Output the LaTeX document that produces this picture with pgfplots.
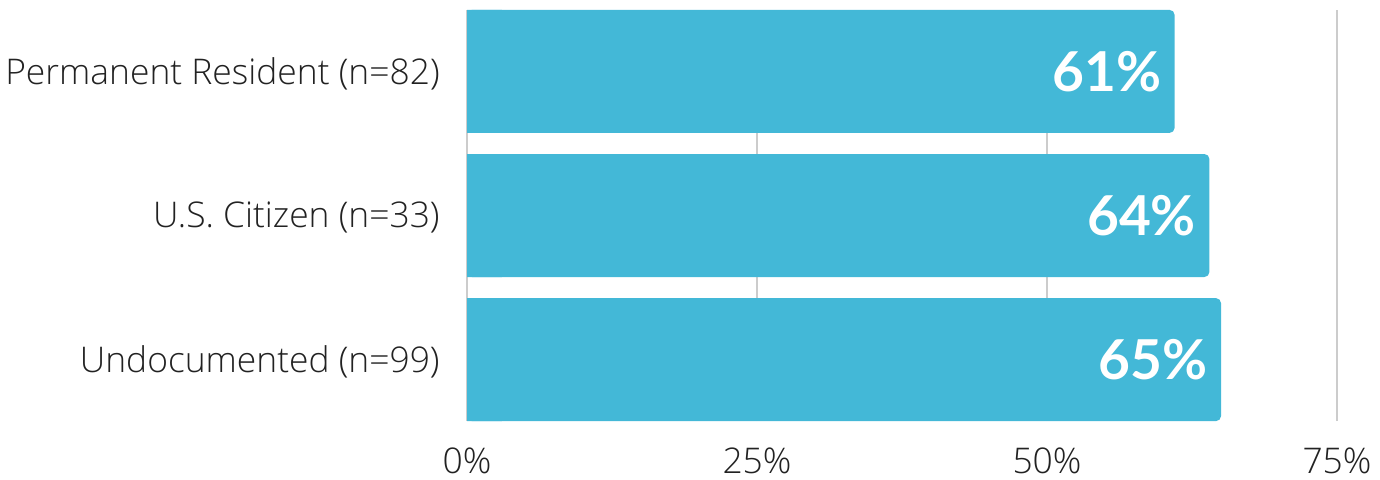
\documentclass[border=0pt]{standalone}
\usepackage{pgfplots}
\pgfplotsset{compat=1.18}
\usepackage{fontspec}
\setmainfont{Open Sans Light}
\newfontfamily\valfont{Lato}
\definecolor{barblue}{HTML}{43B8D7}
\definecolor{gridgrey}{HTML}{CCCCCC}
\definecolor{txt}{HTML}{222222}
\begin{document}
\begin{tikzpicture}
\begin{axis}[name=ax, scale only axis, width=435pt, height=205.5pt,
  xmin=0, xmax=75, ymin=-0.426, ymax=2.426,
  xbar, bar width=61.5pt, bar shift=0pt,
  xtick={0,25,50,75}, xticklabels={0\%,25\%,50\%,75\%},
  ytick={0,1,2}, yticklabels={Undocumented (n=99), U.S. Citizen (n=33), Permanent Resident (n=82)},
  axis line style={draw=none}, major tick length=0pt,
  xmajorgrids, grid style={gridgrey, line width=1pt},
  ticklabel style={font=\fontsize{17.7}{21}\selectfont, text=txt},
  xticklabel style={anchor=north, inner sep=0pt, yshift=-13pt},
  yticklabel style={anchor=east, inner sep=0pt, xshift=-13.5pt, yshift=-1pt},
  clip=false,
]
\addplot[draw=none, fill=barblue, rounded corners=2.5pt, point meta=x,
  nodes near coords={\pgfmathprintnumber[assume math mode=true]{\pgfplotspointmeta}\%},
  every node near coord/.append style={anchor=east, inner sep=0pt, xshift=-6.5pt, text=white,
    font=\valfont\bfseries\fontsize{27.5}{30}\selectfont}]
  coordinates {(65,0) (64,1) (61,2)};
\addplot[draw=none, fill=barblue]
  coordinates {(3,0) (3,1) (3,2)};
\end{axis}
\pgfresetboundingbox
\path ([shift={(-233.5pt,-29pt)}]ax.south west) rectangle ([shift={(21.5pt,5pt)}]ax.north east);
\end{tikzpicture}
\end{document}
